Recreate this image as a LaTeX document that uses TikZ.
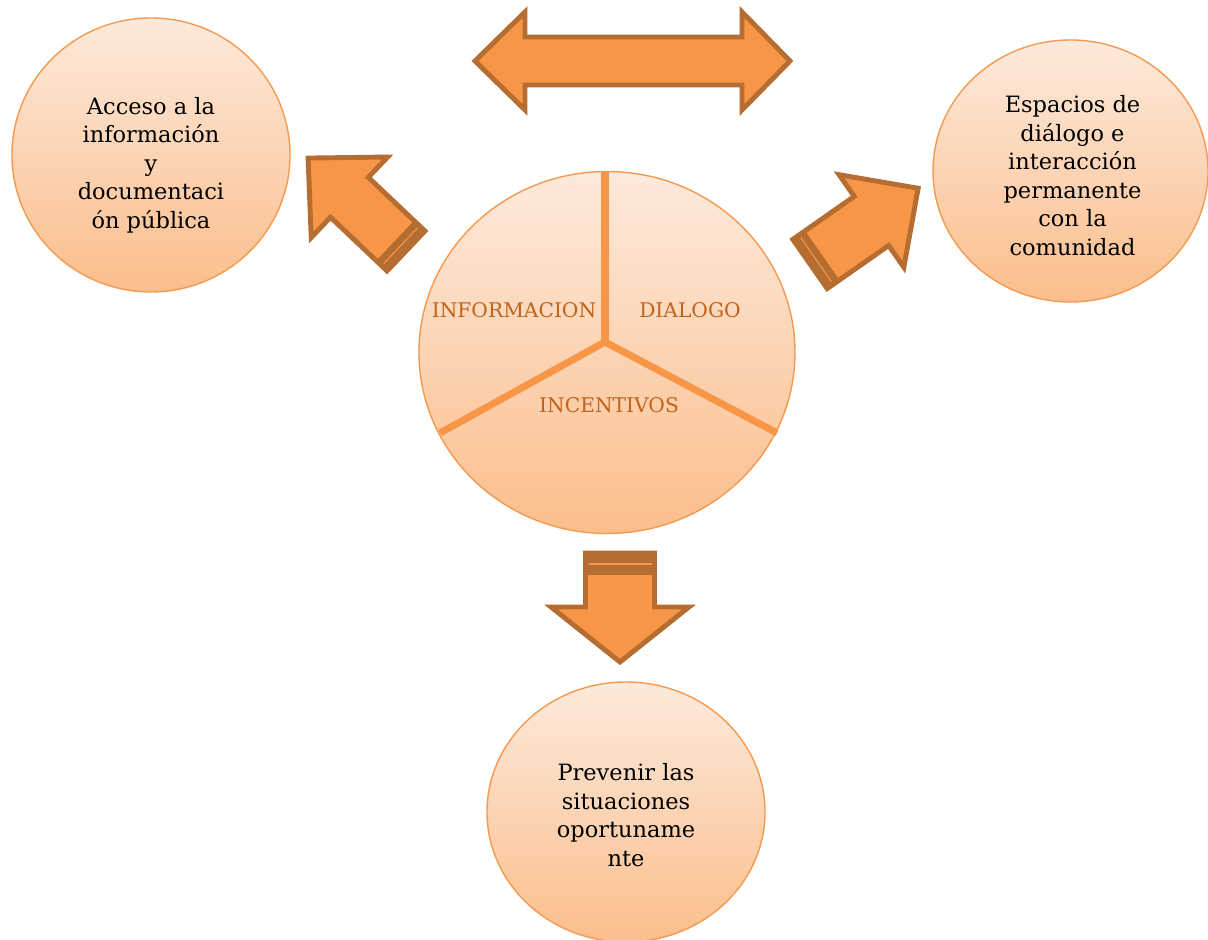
\documentclass[tikz,border=0pt]{standalone}
\usepackage{fontspec}
\setmainfont{DejaVu Serif}
\usetikzlibrary{shapes.geometric}

\definecolor{naranja}{RGB}{247,150,70}
\definecolor{borde}{RGB}{182,109,49}
\definecolor{claro}{RGB}{253,234,220}
\definecolor{oscuro}{RGB}{251,190,140}
\definecolor{contorno}{RGB}{245,154,80}
\definecolor{rotulo}{RGB}{192,100,28}

\tikzset{
  burbuja/.style={ellipse,draw=contorno,line width=0.8pt,top color=claro,bottom color=oscuro,inner sep=0pt},
  texto/.style={align=center,font=\fontsize{12.8}{16.2}\selectfont,text=black},
  sector/.style={font=\fontsize{11.5}{14}\selectfont,text=rotulo},
  bloque/.style={fill=naranja,draw=borde,line width=2.8pt,line join=miter},
  divisor/.style={naranja,line width=4pt},
}

% flecha de bloque: cola, angulo, largo, ancho cuerpo, ancho punta, largo punta, franja
\newcommand{\flecha}[7]{%
  \begin{scope}[shift={#1},rotate=#2]
    \draw[bloque] (0,{-#4/2}) -- ({#3-#6},{-#4/2}) -- ({#3-#6},{-#5/2}) -- (#3,0)
      -- ({#3-#6},{#5/2}) -- ({#3-#6},{#4/2}) -- (0,{#4/2}) -- cycle;
    \fill[borde] (0,{-#4/2}) rectangle (#7,{#4/2});
    \draw[naranja,line width=0.6pt] ({#7/2},{-#4/2+0.06}) -- ({#7/2},{#4/2-0.06});
  \end{scope}}

\begin{document}
\begin{tikzpicture}
  \useasboundingbox (0,0) rectangle (24.16,18.8);

  % circulos
  \node[burbuja,minimum width=7.52cm,minimum height=7.24cm] (pie) at (12.14,11.75) {};
  \node[burbuja,minimum width=5.56cm,minimum height=5.48cm] (acceso) at (3.02,15.7) {};
  \node[burbuja,minimum width=5.5cm,minimum height=5.24cm] (espacios) at (21.41,15.38) {};
  \node[burbuja,minimum width=5.56cm,minimum height=5.2cm] (prevenir) at (12.52,2.56) {};

  % sectores
  \coordinate (nucleo) at (12.1,11.96);
  \coordinate (arriba) at (12.1,15.36);
  \coordinate (izq) at (8.8,10.14);
  \coordinate (der) at (15.54,10.14);
  \draw[divisor] (nucleo) -- (arriba);
  \draw[divisor] (nucleo) -- (izq);
  \draw[divisor] (nucleo) -- (der);

  \node[sector] (info) at (10.28,12.6) {INFORMACION};
  \node[sector] (dialogo) at (13.8,12.6) {DIALOGO};
  \node[sector] (incent) at (12.18,10.7) {INCENTIVOS};

  % textos
  \node[texto] (tacceso) at ([yshift=-0.2cm]acceso.center)
    {Acceso a la\\información\\y\\documentaci\\ón pública};
  \node[texto] (tespacios) at ([xshift=0.04cm,yshift=-0.09cm]espacios.center)
    {Espacios de\\diálogo e\\interacción\\permanente\\con la\\comunidad};
  \node[texto] (tprevenir) at ([yshift=-0.06cm]prevenir.center)
    {Prevenir las\\situaciones\\oportuname\\nte};

  % flechas
  \draw[bloque] (9.5,17.58) -- (10.5,18.56) -- (10.5,18.06) -- (14.84,18.06) -- (14.84,18.56)
    -- (15.8,17.58) -- (14.84,16.6) -- (14.84,17.1) -- (10.5,17.1) -- (10.5,16.6) -- cycle;

  \coordinate (colaizq) at (8.12,13.78);
  \coordinate (colader) at (16.2,13.52);
  \coordinate (colabajo) at (12.4,7.74);
  \flecha{(colaizq)}{136.5}{2.7}{1.1}{2.22}{1.14}{0.3}
  \flecha{(colader)}{35}{2.64}{1.2}{2.26}{1.14}{0.3}
  \flecha{(colabajo)}{-90}{2.18}{1.38}{2.76}{1.1}{0.44}
\end{tikzpicture}
\end{document}
